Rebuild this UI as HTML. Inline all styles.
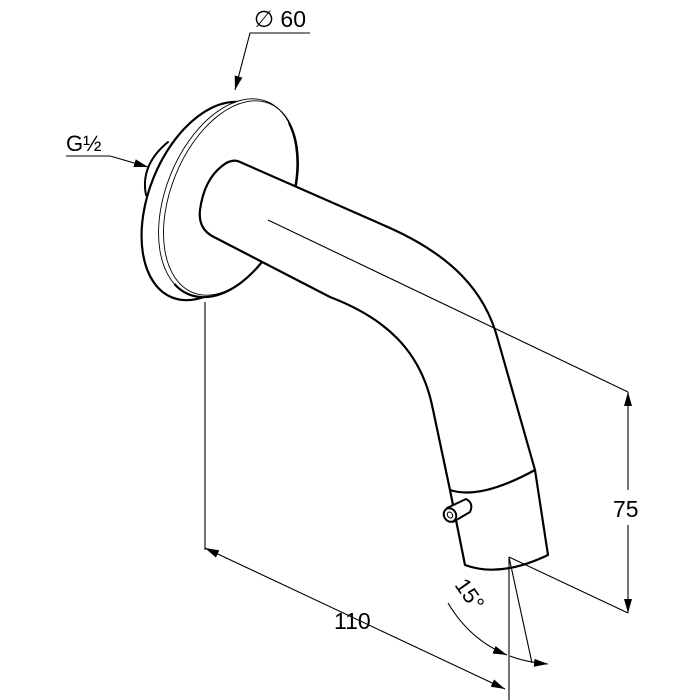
<!DOCTYPE html>
<html><head><meta charset="utf-8"><style>html,body{margin:0;padding:0;background:#fff}svg{display:block}</style></head>
<body>
<svg width="700" height="700" viewBox="0 0 700 700" xmlns="http://www.w3.org/2000/svg">
<defs>
<marker id="a" markerWidth="14" markerHeight="8" refX="14" refY="4" orient="auto" markerUnits="userSpaceOnUse"><path d="M0,0 L14,4 L0,8 Z" fill="#000"/></marker>
<marker id="as" markerWidth="14" markerHeight="8" refX="0" refY="4" orient="auto" markerUnits="userSpaceOnUse"><path d="M14,0 L0,4 L14,8 Z" fill="#000"/></marker>
<clipPath id="rc"><polygon points="236,40 320,40 320,360 200,360 210,300 260,120"/></clipPath>
</defs>
<g fill="none" stroke="#000" stroke-linecap="round" stroke-linejoin="round">
<!-- G1/2 thread -->
<path d="M146,195 Q140,165 168,142" stroke-width="2"/>
<!-- flange rim (back) -->
<ellipse cx="211" cy="201" rx="62" ry="104" transform="rotate(22 211 201)" stroke-width="2.2" fill="#fff"/>
<!-- flange face -->
<ellipse cx="228" cy="198" rx="62" ry="104" transform="rotate(22 228 198)" stroke-width="0.9" fill="#fff"/>
<ellipse cx="231" cy="198" rx="60" ry="102" transform="rotate(22 231 198)" stroke-width="0.9"/>
<ellipse cx="228" cy="198" rx="62" ry="104" transform="rotate(22 228 198)" stroke-width="2.2" clip-path="url(#rc)"/>
<!-- pipe -->
<path d="M240,162 L390,228 C450,255 485,290 498,340 L535,470 Q480,500 450,490 L432,405 C420,350 385,318 330,297 L212,236 Q198,228 200,210 Q204,180 222,166 Q232,158 240,162 Z" stroke-width="2.2" fill="#fff"/>
<path d="M450,490 L465,565 Q500,578 548,555 L535,470" stroke-width="2.2" fill="#fff"/>
<path d="M450,490 Q480,500 535,470" stroke-width="2.2"/>
<!-- pin -->
<path d="M447,508 L466,499 Q474,503 470,512 L453,522" stroke-width="2" fill="#fff"/>
<ellipse cx="450" cy="515" rx="6" ry="7" transform="rotate(-30 450 515)" stroke-width="2" fill="#fff"/>
<ellipse cx="450" cy="515" rx="2.5" ry="3.2" transform="rotate(-30 450 515)" stroke-width="1"/>
</g>
<g fill="none" stroke="#000" stroke-width="1.1">
<line x1="268" y1="220" x2="628" y2="392"/>
<line x1="509" y1="557" x2="628" y2="613"/>
<line x1="628" y1="392" x2="628" y2="490" marker-start="url(#as)"/>
<line x1="628" y1="525" x2="628" y2="613" marker-end="url(#a)"/>
<line x1="205" y1="302" x2="205" y2="550"/>
<line x1="205" y1="548" x2="505" y2="689" marker-start="url(#as)" marker-end="url(#a)"/>
<line x1="509" y1="557" x2="509" y2="700"/>
<line x1="509" y1="557" x2="532" y2="663"/>
<path d="M448,603 Q470,640 507,655" marker-end="url(#a)"/>
<path d="M510,656 Q525,662 548,664" marker-end="url(#a)"/>
<polyline points="310,33 250,33 235,90" marker-end="url(#a)"/>
<polyline points="66,156 110,156 148,167" marker-end="url(#a)"/>
</g>
<g font-family="Liberation Sans, DejaVu Sans, sans-serif" fill="#000">
<text x="254" y="27" font-size="23">∅ 60</text>
<text x="66" y="151" font-size="22">G½</text>
<text x="334" y="629" font-size="23">110</text>
<text x="613" y="517" font-size="23">75</text>
<text x="453" y="597" font-size="22" transform="rotate(55 465 592)">15°</text>
</g>
</svg>
</body></html>
